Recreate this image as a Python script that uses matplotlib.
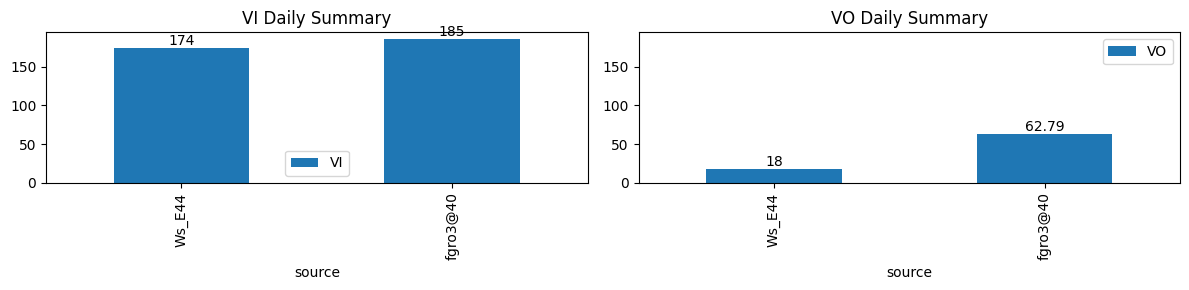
import matplotlib
matplotlib.use("Agg")
import matplotlib.pyplot as plt

sources = ["Ws_E44", "fgro3@40"]
vi_values = [174, 185]
vo_values = [18, 62.79]


def bar_panel(ax, values, name):
    pos = range(len(sources))
    bars = ax.bar(pos, values, width=0.5, color="#1f77b4", label=name)
    ax.bar_label(bars)
    ax.set_xticks(list(pos))
    ax.set_xticklabels(sources, rotation=90)
    ax.set_xlim(-0.5, len(sources) - 0.5)
    ax.set_xlabel("source")
    ax.set_title(f"{name} Daily Summary")
    return ax


fig, axes = plt.subplots(1, 2, figsize=(12, 3), dpi=100, sharey=True)
bar_panel(axes[0], vi_values, "VI")
bar_panel(axes[1], vo_values, "VO")
axes[0].legend(loc="best")
axes[1].legend(loc="best")
axes[1].yaxis.set_tick_params(labelleft=True)

fig.tight_layout()
fig.savefig("out.png", bbox_inches="tight")
